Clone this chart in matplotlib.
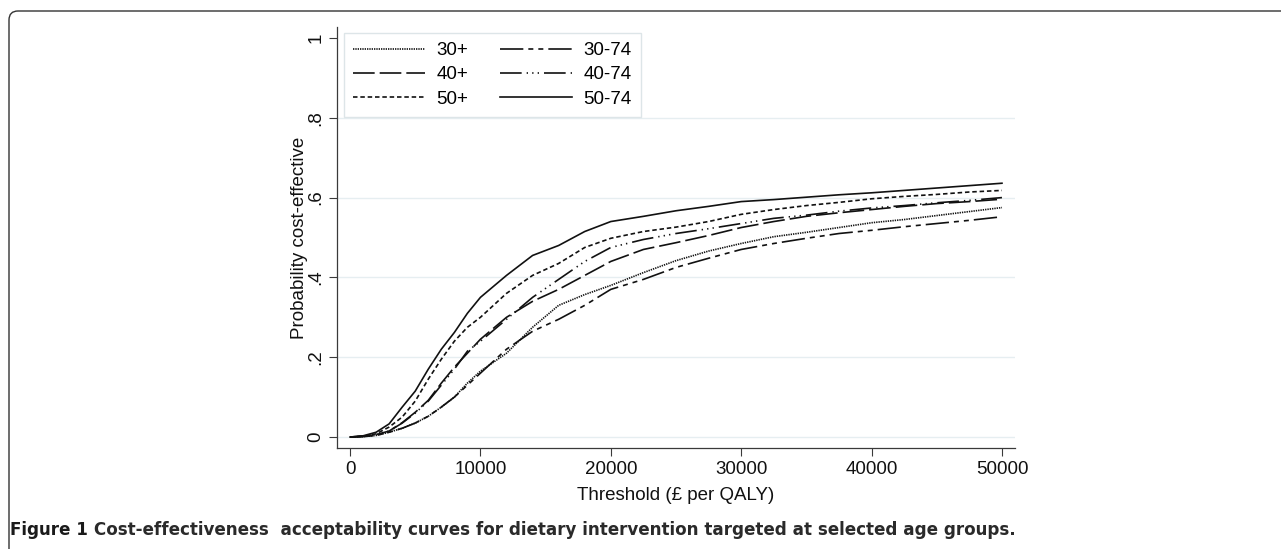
import matplotlib
matplotlib.use("Agg")
import matplotlib.pyplot as plt
from matplotlib.patches import FancyBboxPatch
from matplotlib.transforms import IdentityTransform

# ---- data ----
threshold = [0, 1000, 2000, 3000, 4000, 5000, 6000, 7000, 8000, 9000, 10000,
             12000, 14000, 16000, 18000, 20000, 22500, 25000, 27500, 30000,
             32500, 35000, 37500, 40000, 42500, 45000, 47500, 50000]

p_30plus = [0, 0.001, 0.004, 0.012, 0.022, 0.035, 0.052, 0.075, 0.100, 0.135, 0.165,
            0.210, 0.275, 0.330, 0.357, 0.380, 0.412, 0.442, 0.466, 0.485,
            0.502, 0.513, 0.525, 0.537, 0.545, 0.555, 0.565, 0.575]
p_40plus = [0, 0.002, 0.006, 0.015, 0.036, 0.062, 0.092, 0.135, 0.175, 0.210, 0.245,
            0.300, 0.340, 0.370, 0.405, 0.440, 0.470, 0.487, 0.505, 0.525,
            0.540, 0.553, 0.562, 0.570, 0.578, 0.585, 0.590, 0.596]
p_50plus = [0, 0.002, 0.008, 0.025, 0.050, 0.090, 0.145, 0.195, 0.240, 0.275, 0.300,
            0.360, 0.405, 0.435, 0.475, 0.498, 0.515, 0.526, 0.540, 0.558,
            0.570, 0.580, 0.588, 0.597, 0.603, 0.608, 0.614, 0.618]
p_30_74 = [0, 0.001, 0.004, 0.012, 0.022, 0.035, 0.052, 0.075, 0.100, 0.130, 0.160,
           0.220, 0.265, 0.295, 0.330, 0.370, 0.395, 0.425, 0.448, 0.470,
           0.485, 0.498, 0.510, 0.518, 0.527, 0.535, 0.543, 0.552]
p_40_74 = [0, 0.002, 0.006, 0.015, 0.035, 0.060, 0.090, 0.130, 0.170, 0.215, 0.240,
           0.295, 0.350, 0.395, 0.440, 0.475, 0.495, 0.510, 0.522, 0.535,
           0.548, 0.556, 0.566, 0.574, 0.580, 0.587, 0.593, 0.600]
p_50_74 = [0, 0.003, 0.012, 0.033, 0.075, 0.115, 0.170, 0.220, 0.262, 0.310, 0.350,
           0.405, 0.455, 0.480, 0.515, 0.540, 0.553, 0.567, 0.578, 0.590,
           0.595, 0.601, 0.607, 0.612, 0.618, 0.624, 0.630, 0.636]

x_ticks = [0, 10000, 20000, 30000, 40000, 50000]
x_ticklabels = ["0", "10000", "20000", "30000", "40000", "50000"]
y_ticks = [0, 0.2, 0.4, 0.6, 0.8, 1.0]
y_ticklabels = ["0", ".2", ".4", ".6", ".8", "1"]

caption_bold = "Figure 1"
caption_rest = (" Cost-effectiveness  acceptability curves for dietary "
                "intervention targeted at selected age groups.")

# ---- figure ----
plt.rcParams['font.family'] = ['Liberation Sans', 'DejaVu Sans']
W, H = 1281, 549
fig = plt.figure(figsize=(W / 100, H / 100), dpi=100)
fig.patch.set_facecolor('white')

ax = fig.add_axes([337 / W, 1 - 448 / H, (1015 - 337) / W, (448 - 27) / H])
ax.set_xlim(-1000, 51000)
ax.set_ylim(-0.0275, 1.0275)

for yv in y_ticks[:-1]:
    ax.axhline(yv, color='#e6eef1', lw=1.0, zorder=0)

lw = 1.2
col = '#111111'
series = [
    ("30+", p_30plus, (0, (0.8, 0.6))),
    ("40+", p_40plus, (0, (13, 3))),
    ("50+", p_50plus, (0, (2.7, 1.7))),
    ("30-74", p_30_74, (0, (14, 3, 3, 3, 3, 3))),
    ("40-74", p_40_74, (0, (13, 3, 0.8, 2.5, 0.8, 2.5, 0.8, 3))),
    ("50-74", p_50_74, '-'),
]
handles = []
for name, vals, ls in series:
    h, = ax.plot(threshold, vals, color=col, lw=lw, linestyle=ls, label=name)
    handles.append(h)

for s in ['top', 'right']:
    ax.spines[s].set_visible(False)
for s in ['left', 'bottom']:
    ax.spines[s].set_color('#3a3a3a')
    ax.spines[s].set_linewidth(0.9)

ax.set_xticks(x_ticks)
ax.set_xticklabels(x_ticklabels)
ax.set_yticks(y_ticks)
ax.set_yticklabels(y_ticklabels, rotation=90, va='center')
ax.tick_params(axis='both', direction='out', length=6, width=0.8,
               color='#3a3a3a', labelsize=13.5, labelcolor='#111111', pad=3)

ax.set_xlabel("Threshold (£ per QALY)", fontsize=13.5, labelpad=7, color='#111111')
ax.set_ylabel("Probability cost-effective", fontsize=13.5, labelpad=0, color='#111111')

leg = ax.legend(handles=handles, ncol=2, loc='upper left',
                bbox_to_anchor=(344 / W, 1 - 33 / H), bbox_transform=fig.transFigure,
                fontsize=13.5, frameon=True, fancybox=False, framealpha=1,
                edgecolor='#dde5e8', handlelength=3.85, handletextpad=0.6,
                columnspacing=1.7, labelspacing=0.38, borderpad=0.48,
                borderaxespad=0)
leg.get_frame().set_linewidth(1.0)

# outer rounded frame
frame = FancyBboxPatch((9, -30), 1320, H - 11 + 30,
                       boxstyle="round,pad=0,rounding_size=9",
                       transform=IdentityTransform(), facecolor='none',
                       edgecolor='#333333', linewidth=1.0)
fig.add_artist(frame)

# caption, scaled so that it spans the same width as in the reference
cap_fs = 13.0
renderer = fig.canvas.get_renderer()
t1 = fig.text(10 / W, 1 - 535 / H, caption_bold, fontsize=cap_fs,
              fontweight='bold', va='baseline', ha='left', color='#1a1a1a',
              family=['DejaVu Sans'])
t2 = fig.text(0, 1 - 535 / H, caption_rest, fontsize=cap_fs,
              fontweight='bold', va='baseline', ha='left', color='#2a2a2a',
              family=['DejaVu Sans'])
bb1 = t1.get_window_extent(renderer=renderer)
bb2 = t2.get_window_extent(renderer=renderer)
total = bb1.width + bb2.width
scale = (1010 - 10) / total
cap_fs *= scale
t1.set_fontsize(cap_fs)
t2.set_fontsize(cap_fs)
bb1 = t1.get_window_extent(renderer=renderer)
t2.set_x(bb1.x1 / W)

fig.savefig("out.png", dpi=100)
